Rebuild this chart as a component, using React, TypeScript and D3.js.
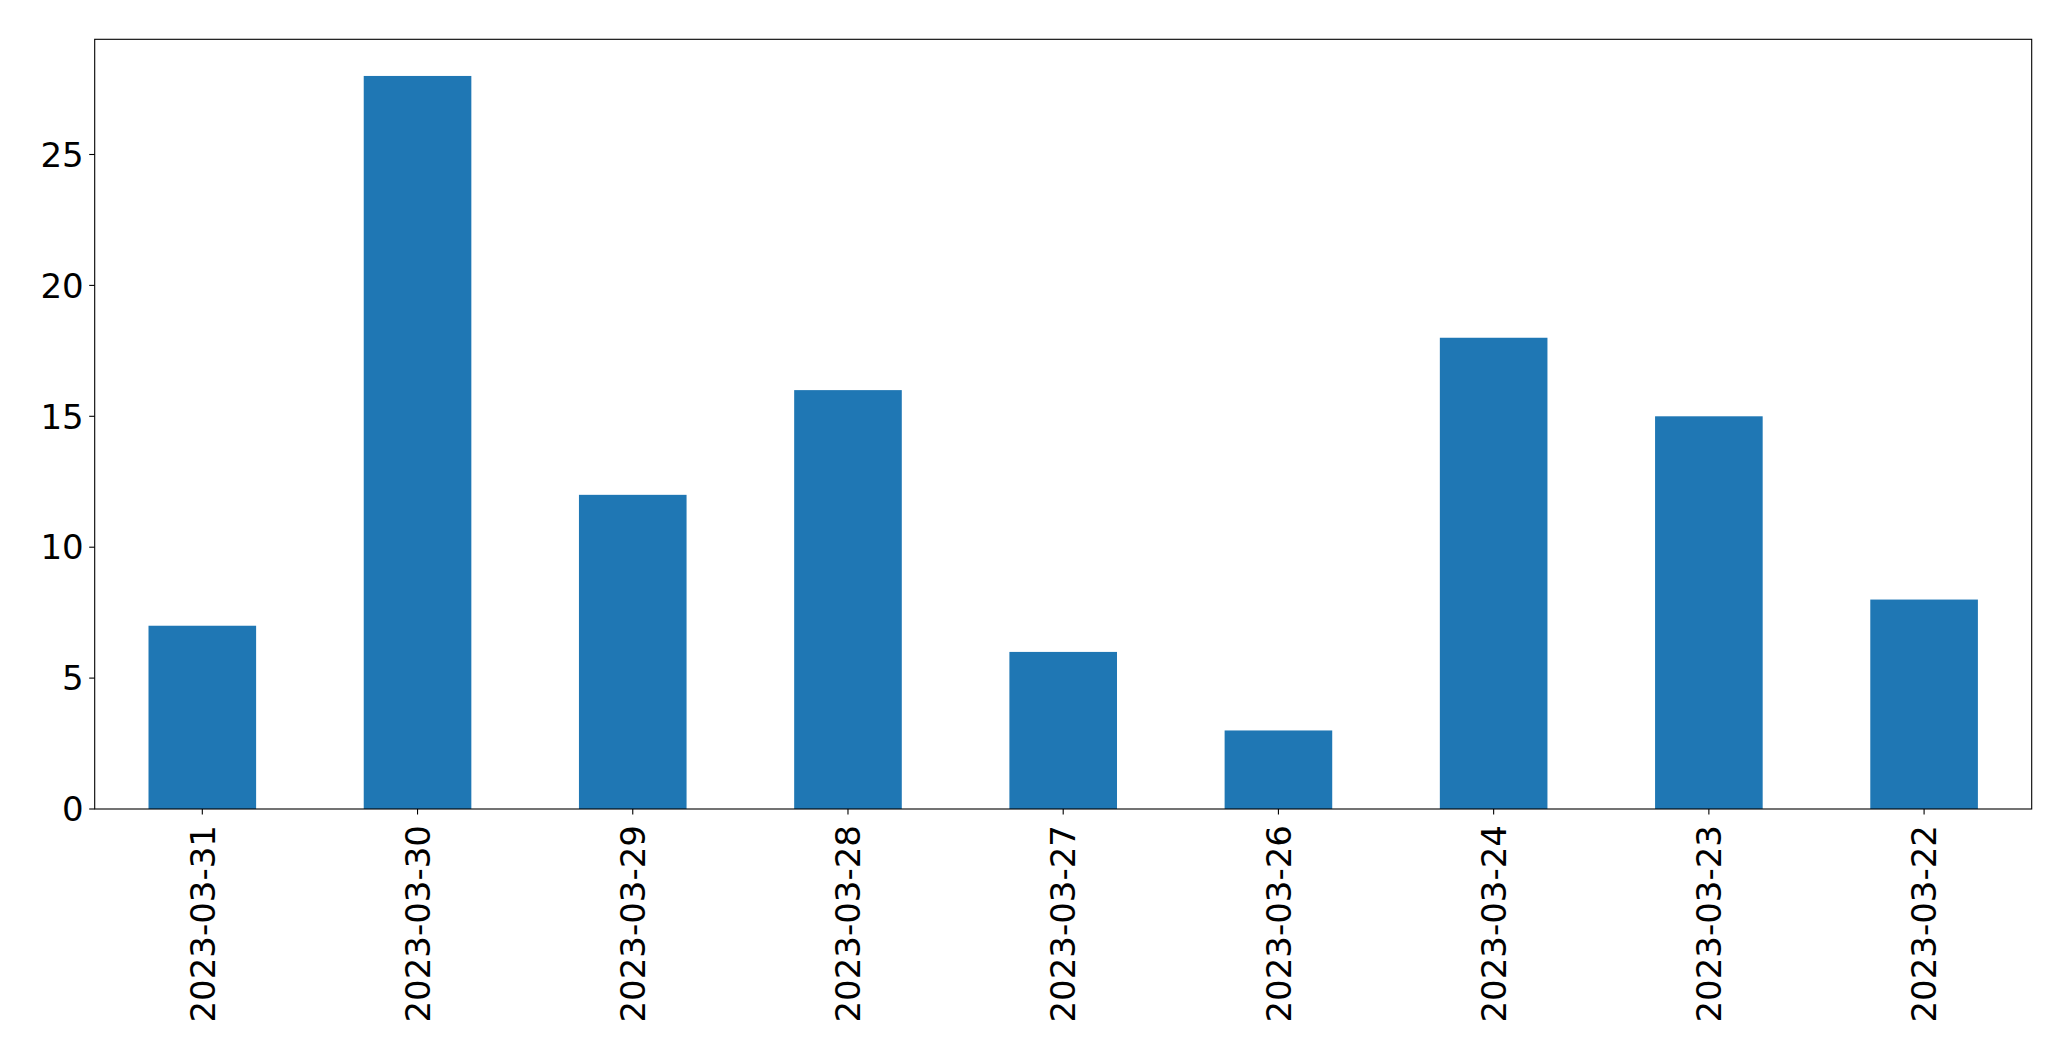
import React from "react";
import * as d3 from "d3";

const categories: string[] = [
  "2023-03-31",
  "2023-03-30",
  "2023-03-29",
  "2023-03-28",
  "2023-03-27",
  "2023-03-26",
  "2023-03-24",
  "2023-03-23",
  "2023-03-22",
];
const counts: number[] = [7, 28, 12, 16, 6, 3, 18, 15, 8];
const yTicks: number[] = [0, 5, 10, 15, 20, 25];

const W = 2071;
const H = 1061;
const left = 94.7;
const right = 2031.7;
const top = 39.3;
const bottom = 809;
const FONT = "'DejaVu Sans', sans-serif";
const FS = 34;

export default function App() {
  const x = d3
    .scaleLinear()
    .domain([-0.5, categories.length - 0.5])
    .range([left, right]);
  const yMax = d3.max(counts)! * 1.05;
  const y = d3.scaleLinear().domain([0, yMax]).range([bottom, top]);
  const barW = x(0.25) - x(-0.25);

  return (
    <svg
      width={W}
      height={H}
      style={{ position: "absolute", left: 0, top: 0, background: "#fff" }}
      fontFamily={FONT}
    >
      <rect x={0} y={0} width={W} height={H} fill="#fff" />
      {counts.map((v, i) => (
        <rect
          key={i}
          x={x(i) - barW / 2}
          y={y(v)}
          width={barW}
          height={y(0) - y(v)}
          fill="#1f77b4"
        />
      ))}
      {/* frame */}
      <rect
        x={left}
        y={top}
        width={right - left}
        height={bottom - top}
        fill="none"
        stroke="#000"
        strokeWidth={1.1}
      />
      {/* y ticks */}
      {yTicks.map((t) => (
        <g key={t}>
          <line x1={left - 5.5} x2={left} y1={y(t)} y2={y(t)} stroke="#000" strokeWidth={1.1} />
          <text
            x={left - 11}
            y={y(t)}
            dy="0.36em"
            textAnchor="end"
            fontSize={FS}
            fill="#000"
          >
            {t}
          </text>
        </g>
      ))}
      {/* x ticks */}
      {categories.map((c, i) => (
        <g key={c}>
          <line x1={x(i)} x2={x(i)} y1={bottom} y2={bottom + 5.5} stroke="#000" strokeWidth={1.1} />
          <text
            transform={`translate(${x(i)},${bottom + 16}) rotate(-90)`}
            dy="0.36em"
            textAnchor="end"
            fontSize={FS}
            fill="#000"
          >
            {c}
          </text>
        </g>
      ))}
    </svg>
  );
}
